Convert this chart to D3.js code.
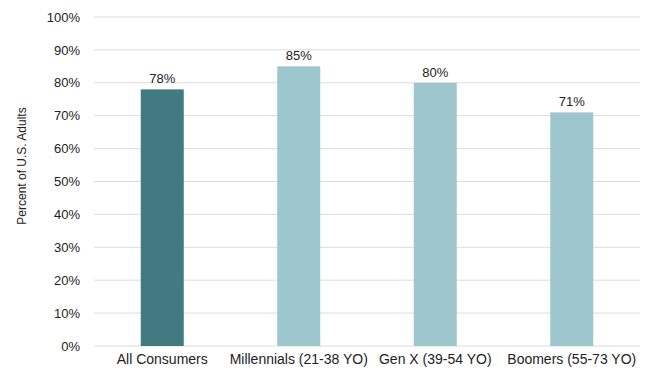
<!DOCTYPE html>
<html>
<head>
<meta charset="utf-8">
<script src="https://cdn.jsdelivr.net/npm/d3@7"></script>
<style>
  body { margin: 0; background: #fff; }
  text { font-family: "Liberation Sans", Arial, sans-serif; fill: #222; }
</style>
</head>
<body>
<svg id="chart" width="652" height="370"></svg>
<script>
// data
let categories = ['All Consumers', 'Millennials (21-38 YO)', 'Gen X (39-54 YO)', 'Boomers (55-73 YO)'];
let values = [78, 85, 80, 71];
let yTicks = [0, 10, 20, 30, 40, 50, 60, 70, 80, 90, 100];

let svg = d3.select('#chart');
let margin = {top: 17, right: 12, bottom: 24, left: 94};
let width = 652 - margin.left - margin.right;
let height = 346 - margin.top;

let g = svg.append('g')
    .attr('transform', 'translate(' + margin.left + ',' + margin.top + ')');

let x = d3.scaleBand()
    .domain(categories)
    .range([0, width])
    .paddingInner(0.685)
    .paddingOuter(0.3425);

let y = d3.scaleLinear()
    .domain([0, 100])
    .range([height, 0]);

// gridlines
g.append('g')
    .selectAll('line')
    .data(yTicks)
    .enter().append('line')
    .attr('x1', 0)
    .attr('x2', width)
    .attr('y1', function(d) { return y(d); })
    .attr('y2', function(d) { return y(d); })
    .attr('stroke', '#dcdcdc')
    .attr('stroke-width', 1);

// y axis
let yAxis = g.append('g')
    .call(d3.axisLeft(y).tickValues(yTicks).tickSize(0).tickPadding(14)
        .tickFormat(function(d) { return d + '%'; }));
yAxis.select('.domain').remove();
yAxis.selectAll('text').style('font-size', '13px').attr('fill', '#222');

// x axis
let xAxis = g.append('g')
    .attr('transform', 'translate(0,' + height + ')')
    .call(d3.axisBottom(x).tickSize(0).tickPadding(8));
xAxis.select('.domain').remove();
xAxis.selectAll('text').style('font-size', '14px').attr('fill', '#222');

// bars
g.selectAll('.bar')
    .data(values)
    .enter().append('rect')
    .attr('class', 'bar')
    .attr('x', function(d, i) { return x(categories[i]); })
    .attr('y', function(d) { return y(d); })
    .attr('width', x.bandwidth())
    .attr('height', function(d) { return height - y(d); })
    .attr('fill', function(d, i) { return i === 0 ? '#427a81' : '#9dc7cd'; });

// labels
g.selectAll('.val')
    .data(values)
    .enter().append('text')
    .attr('class', 'val')
    .attr('x', function(d, i) { return x(categories[i]) + x.bandwidth() / 2; })
    .attr('y', function(d) { return y(d) - 6; })
    .attr('text-anchor', 'middle')
    .style('font-size', '13px')
    .text(function(d) { return d + '%'; });

// y label
svg.append('text')
    .attr('transform', 'translate(26,166) rotate(-90)')
    .attr('text-anchor', 'middle')
    .style('font-size', '12px')
    .text('Percent of U.S. Adults');
</script>
</body>
</html>
